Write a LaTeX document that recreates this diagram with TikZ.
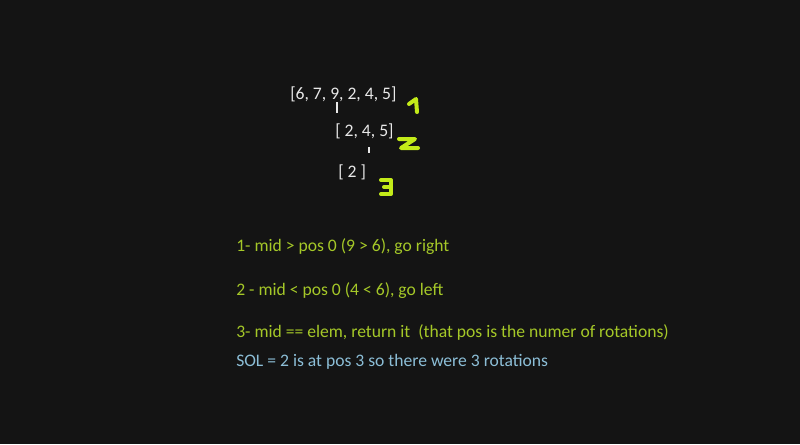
\documentclass[tikz,border=0pt]{standalone}
\usepackage{fontspec}
\setmainfont{Carlito}
\usepackage{xcolor}
\definecolor{bgdark}{RGB}{20,20,20}
\definecolor{txtwhite}{RGB}{232,232,232}
\definecolor{txtgreen}{RGB}{165,200,40}
\definecolor{txtblue}{RGB}{140,190,215}
\definecolor{handgreen}{RGB}{195,235,25}

\begin{document}
\begin{tikzpicture}[x=0.75pt, y=-0.75pt, font=\fontsize{13.2}{15}\selectfont,
  arr/.style={text=txtwhite, inner sep=0pt, anchor=base west},
  note/.style={text=txtgreen, inner sep=0pt, anchor=base west},
  sol/.style={note, text=txtblue},
  tickbar/.style={draw=txtwhite, line width=2.2pt},
  hand/.style={draw=handgreen, line width=3pt, line cap=round, line join=round}]
\fill[bgdark] (0,0) rectangle (800,444);
\useasboundingbox (0,0) rectangle (800,444);
% the array, split twice
\node[arr] (full) at (290,99) {[6, 7, 9, 2, 4, 5]};
\node[arr] (half) at (335,136) {[ 2, 4, 5]};
\node[arr] (one) at (338,177) {[ 2 ]};
\draw[tickbar] (337,102) -- (337,113);
\draw[tickbar] (369,147) -- (369,153);
% hand written step numbers
\draw[hand] (409,104) -- (416,99) -- (417,112);
\draw[hand] (399,139) -- (415,139) -- (401,148) -- (418,148);
\draw[hand] (381,180) -- (391,180) -- (391,194) -- (381,194) (384,187) -- (391,187);
% notes
\node[note] (s1) at (236,251) {1- mid > pos 0 (9 > 6), go right};
\node[note] (s2) at (236,295) {2 - mid < pos 0 (4 < 6), go left};
\node[note] (s3) at (236,337) {3- mid == elem, return it\ \ (that pos is the numer of rotations)};
\node[sol] (res) at (236,366) {SOL = 2 is at pos 3 so there were 3 rotations};
\end{tikzpicture}
\end{document}
